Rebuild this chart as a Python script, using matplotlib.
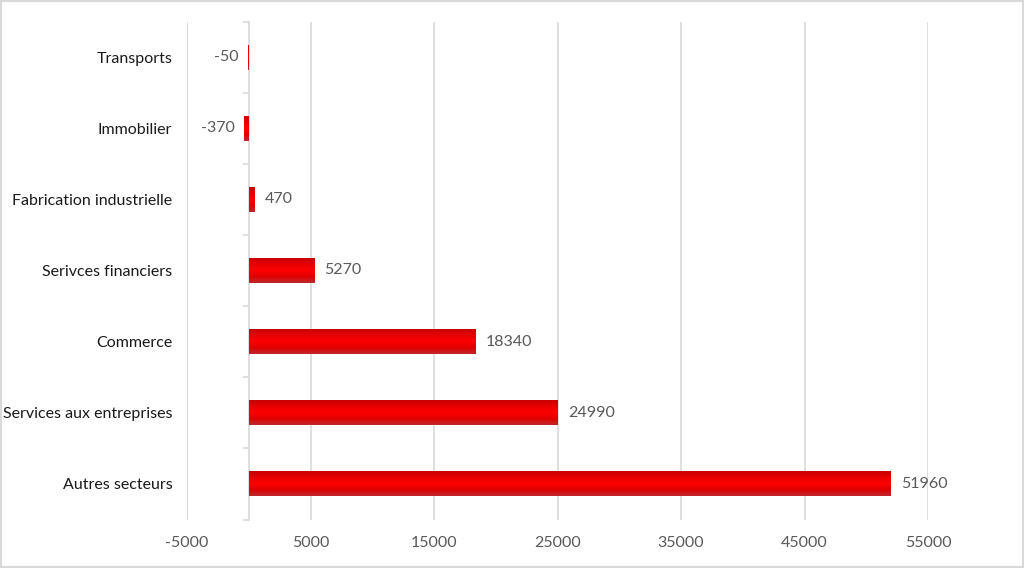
import matplotlib
matplotlib.use('Agg')
import matplotlib.pyplot as plt
import numpy as np
from matplotlib.colors import LinearSegmentedColormap
from matplotlib.patches import Rectangle

plt.rcParams['font.family'] = ['Lato', 'DejaVu Sans']

# Data (bottom to top)
categories = ['Autres secteurs', 'Services aux entreprises', 'Commerce',
              'Serivces financiers', 'Fabrication industrielle', 'Immobilier', 'Transports']
values = [51960, 24990, 18340, 5270, 470, -370, -50]
xticks = [-5000, 5000, 15000, 25000, 35000, 45000, 55000]

fig = plt.figure(figsize=(10.24, 5.68), dpi=100)
ax = fig.add_axes([187 / 1024, 1 - 519.5 / 568, (928 - 187) / 1024, 498 / 568])

y = np.arange(len(categories))
bars = ax.barh(y, values, height=0.35, color='none', edgecolor='none', zorder=3)

# vertical red gradient inside each bar
cmap = LinearSegmentedColormap.from_list(
    'redgrad', ['#C0282D', '#E00000', '#FF0000', '#E80000', '#C80000'])
grad = np.linspace(0, 1, 64).reshape(-1, 1)
for b in bars:
    x0, y0, w, h = b.get_x(), b.get_y(), b.get_width(), b.get_height()
    im = ax.imshow(grad, cmap=cmap, aspect='auto', origin='lower',
                   extent=(min(x0, x0 + w), max(x0, x0 + w), y0, y0 + h), zorder=3)
    im.set_clip_path(b)

# value labels
for yi, v in zip(y, values):
    if v >= 0:
        ax.text(v + 850, yi, str(v), va='center', ha='left', fontsize=11.5, color='#595959')
    else:
        ax.text(v - 750, yi, str(v), va='center', ha='right', fontsize=11.5, color='#595959')

ax.set_xlim(-5000, 55000)
ax.set_ylim(-0.5, len(categories) - 0.5)
ax.set_xticks(xticks)
ax.set_xticklabels([str(t) for t in xticks])
ax.tick_params(axis='x', length=0, pad=12, labelsize=11.5, labelcolor='#595959')
ax.grid(axis='x', color='#D9D9D9', linewidth=1.2, zorder=0)

# category axis sits at x=0
ax.spines['left'].set_position(('data', 0))
ax.spines['left'].set_color('#D9D9D9')
ax.spines['left'].set_linewidth(1.2)
for s in ['top', 'right', 'bottom']:
    ax.spines[s].set_visible(False)
ax.set_yticks(y)
ax.set_yticklabels(categories)
ax.set_yticks(np.arange(len(categories) + 1) - 0.5, minor=True)
ax.tick_params(axis='y', which='major', length=0, pad=55, labelsize=11.5, labelcolor='#1a1a1a')
ax.tick_params(axis='y', which='minor', length=4, width=1.2, color='#D9D9D9')

# light frame around figure
fig.patches.append(Rectangle((0.001, 0.002), 0.998, 0.996, transform=fig.transFigure,
                             fill=False, edgecolor='#D9D9D9', linewidth=1.5))

fig.savefig('out.png', dpi=100)
